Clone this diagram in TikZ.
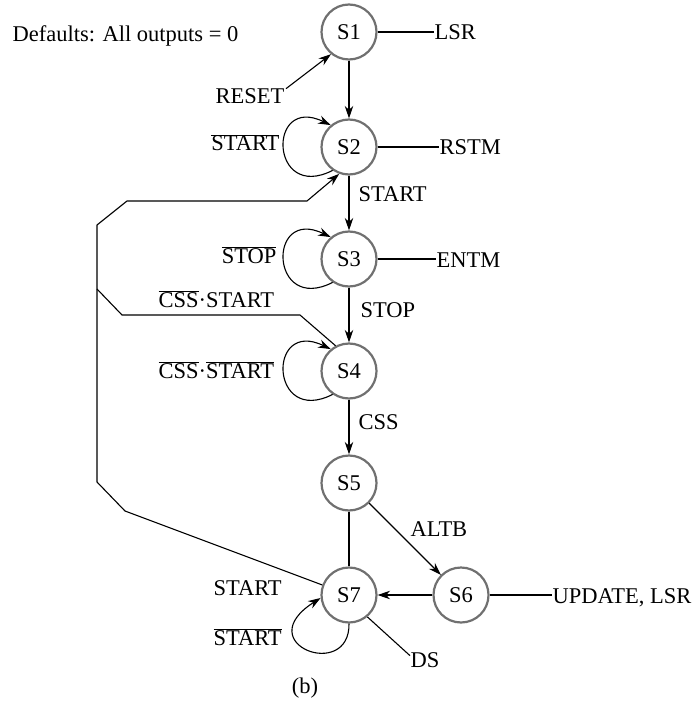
\documentclass[tikz,border=0pt]{standalone}
\usepackage{fontspec}
\setmainfont{Liberation Serif}
\usetikzlibrary{arrows.meta}
\definecolor{stategray}{HTML}{707070}
\begin{document}
\begin{tikzpicture}[x=1pt,y=-1pt,line width=1.1pt,
  font=\fontsize{22.5}{27}\selectfont,
  state/.style={circle,draw=stategray,line width=2.2pt,minimum size=55pt,inner sep=0pt},
  lbl/.style={inner sep=0pt},
  arr/.style={-{Stealth[length=12.5pt,width=8.5pt,inset=4pt]}}]
\useasboundingbox (0,0) rectangle (698,703);

% states
\node[state] (S1) at (349,32) {S1};
\node[state] (S2) at (349,147) {S2};
\node[state] (S3) at (349,259) {S3};
\node[state] (S4) at (349,371) {S4};
\node[state] (S5) at (349,483) {S5};
\node[state] (S6) at (461,595) {S6};
\node[state] (S7) at (349,595) {S7};

% texts
\node[lbl,anchor=base west] (defaults) at (12,42) {Defaults: All outputs = 0};
\node[lbl,anchor=base west] (lsr) at (434,40) {LSR};
\node[lbl,anchor=base east] (reset) at (285,104) {RESET};
\node[lbl,anchor=base east] (nstart2) at (280,151) {$\overline{\mbox{START}}$};
\node[lbl,anchor=base west] (rstm) at (439,155) {RSTM};
\node[lbl,anchor=base west] (start23) at (358,202) {START};
\node[lbl,anchor=base east] (nstop) at (277,263) {$\overline{\mbox{STOP}}$};
\node[lbl,anchor=base west] (entm) at (436,267) {ENTM};
\node[lbl,anchor=base west] (cssstart) at (158,307) {$\overline{\mbox{CSS}}$·START};
\node[lbl,anchor=base west] (stop34) at (360,317) {STOP};
\node[lbl,anchor=base west] (ncssnstart) at (158,378) {$\overline{\mbox{CSS}}$·$\overline{\mbox{START}}$};
\node[lbl,anchor=base west] (css) at (358,429) {CSS};
\node[lbl,anchor=base west] (altb) at (410,536) {ALTB};
\node[lbl,anchor=base west] (start72) at (213,595) {START};
\node[lbl,anchor=base west] (update) at (552,603) {UPDATE, LSR};
\node[lbl,anchor=base west] (nstart7) at (213,645) {$\overline{\mbox{START}}$};
\node[lbl,anchor=base west] (ds) at (410,667) {DS};
\node[lbl,anchor=base] (b) at (305,693) {(b)};

% output lines
\draw (S1.east) -- (S1.east -| lsr.west);
\draw (S2.east) -- (S2.east -| rstm.west);
\draw (S3.east) -- (S3.east -| entm.west);
\draw (S6.east) -- (S6.east -| update.west);
\draw (S7.310) -- (ds.165);

% reset
\draw[arr] (reset.east) ++(1,-8) coordinate (rs) -- (S1.231);

% main chain
\draw[arr] (S1) -- (S2);
\draw[arr] (S2) -- (S3);
\draw[arr] (S3) -- (S4);
\draw[arr] (S4) -- (S5);
\draw[arr] (S5) -- (S6);
\draw[arr] (S6) -- (S7);
\draw (S5) -- (S7);

% self loops
\draw[arr] (S2.235) .. controls +(-63,32) and +(-64,-31) .. (S2.130);
\draw[arr] (S3.235) .. controls +(-63,32) and +(-64,-31) .. (S3.130);
\draw[arr] (S4.235) .. controls +(-63,32) and +(-64,-31) .. (S4.130);
\draw[arr] (S7.south) .. controls +(1,58) and +(-72,46) .. (S7.186);

% return path S7 -> S2
\coordinate (c1) at (125,511);
\coordinate (c2) at (97,482);
\coordinate (c3) at (97,225);
\coordinate (c4) at (127,201);
\coordinate (c5) at (307,201);
\draw[arr,line join=round] (S7) -- (c1) -- (c2) -- (c3) -- (c4) -- (c5) -- (S2.250);

% CSS.START branch from S4
\coordinate (d1) at (300,315);
\coordinate (d2) at (122,315);
\coordinate (d3) at (97,289);
\draw[line join=round] (S4.118) -- (d1) -- (d2) -- (d3);
\end{tikzpicture}
\end{document}
